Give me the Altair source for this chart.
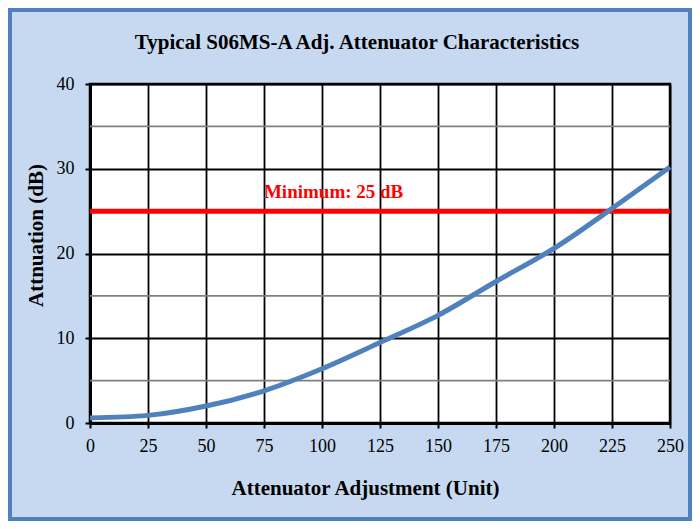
import altair as alt
import pandas as pd

# ---- data ----
adjust_units = [0, 25, 50, 75, 100, 125, 150, 175, 200, 228, 250]
attenuation_db = [0.6, 0.9, 2.0, 3.8, 6.4, 9.5, 12.7, 16.7, 20.6, 25.9, 30.2]
minimum_db = [25]
minor_grid = [5, 15, 25, 35]
x_ticks = [0, 25, 50, 75, 100, 125, 150, 175, 200, 225, 250]
y_ticks = [0, 10, 20, 30, 40]
label_text = ["Minimum: 25 dB"]
label_x = [105]
label_y = [26.5]
title_text = ["Typical S06MS-A Adj. Attenuator Characteristics"]

W, H = 580, 339
FONT = "Liberation Serif"

curve_df = pd.DataFrame({"x": adjust_units, "y": attenuation_db})
min_df = pd.DataFrame({"y": minimum_db})
minor_df = pd.DataFrame({"y": minor_grid})
label_df = pd.DataFrame({"x": label_x, "y": label_y, "t": label_text})
title_df = pd.DataFrame({"t": title_text})

xscale = alt.Scale(domain=[0, 250], nice=False)
yscale = alt.Scale(domain=[0, 40], nice=False)

xaxis = alt.Axis(
    values=x_ticks, title="Attenuator Adjustment (Unit)",
    titleX=275, titleY=71, titleAlign="center", titleBaseline="alphabetic",
    titleFont=FONT, titleFontSize=21, titleFontWeight="bold", titleColor="black",
    labelFont=FONT, labelFontSize=18, labelColor="black", labelPadding=9,
    labelFlush=False, labelOverlap=False,
    tickColor="black", tickSize=5, tickWidth=2,
    domainColor="black", domainWidth=3,
    grid=True, gridColor="black", gridWidth=1.8,
)
yaxis = alt.Axis(
    values=y_ticks, title="Attnuation (dB)",
    titleX=-48, titleY=151, titleAlign="center", titleBaseline="alphabetic", titleAngle=270,
    titleFont=FONT, titleFontSize=21, titleFontWeight="bold", titleColor="black",
    labelFont=FONT, labelFontSize=18, labelColor="black", labelPadding=11,
    labelFlush=False, labelOverlap=False,
    tickColor="black", tickSize=5, tickWidth=2,
    domainColor="black", domainWidth=3,
    grid=True, gridColor="black", gridWidth=1.8,
)

frame = alt.Chart(pd.DataFrame({"a": [0]})).mark_rect(
    fill=None, stroke="#4F81BD", strokeWidth=4
).encode(
    x=alt.value(-80), x2=alt.value(W + 20), y=alt.value(-74), y2=alt.value(H + 96)
)

title = alt.Chart(title_df).mark_text(
    color="black", font=FONT, fontSize=21, fontWeight="bold",
    align="center", baseline="alphabetic"
).encode(x=alt.value(267), y=alt.value(-35), text="t:N")

minor = alt.Chart(minor_df).mark_rule(color="#808080", strokeWidth=1.6).encode(
    y=alt.Y("y:Q", scale=yscale, axis=yaxis)
)

curve = alt.Chart(curve_df).mark_line(
    color="#4F81BD", strokeWidth=5, interpolate="monotone"
).encode(
    x=alt.X("x:Q", scale=xscale, axis=xaxis),
    y=alt.Y("y:Q", scale=yscale, axis=yaxis),
)

minline = alt.Chart(min_df).mark_rule(color="#FF0000", strokeWidth=5).encode(
    y=alt.Y("y:Q", scale=yscale)
)

label = alt.Chart(label_df).mark_text(
    color="#FF0000", font=FONT, fontSize=19, fontWeight="bold",
    align="center", baseline="alphabetic"
).encode(
    x=alt.X("x:Q", scale=xscale), y=alt.Y("y:Q", scale=yscale), text="t:N"
)

chart = alt.layer(minor, minline, curve, label, frame, title).properties(
    width=W, height=H,
    background="#C6D9F1",
    padding={"left": 82, "top": 76, "right": 22, "bottom": 98},
    autosize=alt.AutoSizeParams(type="none"),
).configure_view(
    fill="white", stroke="black", strokeWidth=2.5
)

chart.save("out.html", embed_options={"renderer": "svg", "actions": False})
